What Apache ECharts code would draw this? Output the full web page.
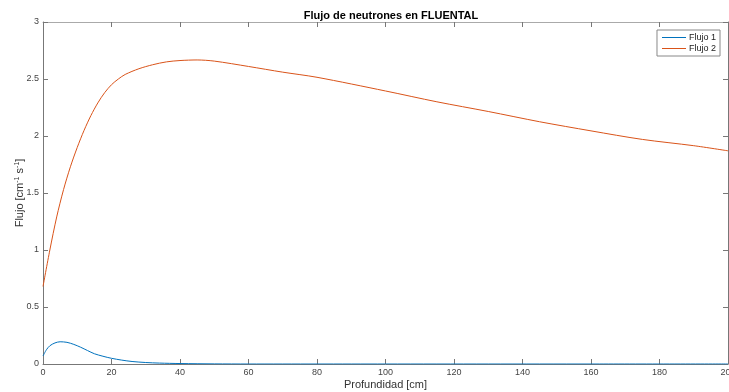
<!DOCTYPE html>
<html>
<head>
<meta charset="utf-8">
<title>Flujo de neutrones en FLUENTAL</title>
<script src="https://cdn.jsdelivr.net/npm/echarts@6/dist/echarts.min.js"></script>
<style>
	html, body { margin: 0; padding: 0; background: #fff; }
	#main { width: 729px; height: 392px; }
</style>
</head>
<body>
<div id="main"></div>
<script>
(function(){
	// profundidad [cm] y flujos
	var depth2 = [0, 2, 4, 6, 8, 10, 12, 14, 16, 18, 20, 22, 24, 28, 32, 36, 40, 45, 50, 60, 70, 80, 100, 115, 130, 145, 160, 175, 190, 200];
	var flux2  = [0.68, 1.0, 1.29, 1.53, 1.73, 1.90, 2.05, 2.18, 2.29, 2.38, 2.45, 2.50, 2.54, 2.59, 2.625, 2.65, 2.662, 2.667, 2.657, 2.61, 2.56, 2.515, 2.395, 2.30, 2.215, 2.125, 2.045, 1.97, 1.915, 1.87];
	var depth1 = [0, 1, 2, 3.5, 5, 7, 9, 11, 13, 15, 17.5, 20, 23, 26, 30, 34, 40, 50, 60, 80, 100, 130, 160, 200];
	var flux1  = [0.07, 0.125, 0.16, 0.185, 0.195, 0.19, 0.172, 0.147, 0.118, 0.09, 0.068, 0.05, 0.034, 0.022, 0.013, 0.008, 0.004, 0.001, 0, 0, 0, 0, 0, 0];
	var seriesNames = ['Flujo 1', 'Flujo 2'];
	var colors = ['#0072BD', '#D95319'];

	function pairs(xs, ys){
		var out = [];
		for (var i = 0; i < xs.length; i++) out.push([xs[i], ys[i]]);
		return out;
	}

	var axisColor = '#777';
	var font = 'Liberation Sans, Arial, sans-serif';
	// ejes tipo MATLAB: caja completa, marcas hacia dentro
	function tick(){
		return { show: true, inside: true, length: 5, lineStyle: { color: axisColor, width: 1 } };
	}

	var chart = echarts.init(document.getElementById('main'), null, { renderer: 'canvas' });
	var option = {
		animation: false,
		color: colors,
		title: {
			text: 'Flujo de neutrones en FLUENTAL',
			left: 386,
			textAlign: 'center',
			top: 5,
			textStyle: { fontSize: 11, fontWeight: 'bold', color: '#000', fontFamily: font }
		},
		legend: {
			data: seriesNames,
			orient: 'vertical',
			right: 9,
			top: 30,
			icon: 'rect',
			itemWidth: 24,
			itemHeight: 1,
			itemGap: 2,
			padding: [3, 4, 3, 5],
			borderColor: '#888',
			borderWidth: 1,
			backgroundColor: '#fff',
			textStyle: { fontSize: 9, color: '#222', fontFamily: font, padding: [0, 0, 0, -2] }
		},
		grid: { left: 43, right: 1, top: 22, bottom: 28, outerBoundsMode: 'none', containLabel: false },
		xAxis: [{
			type: 'value',
			min: 0,
			max: 200,
			interval: 20,
			name: 'Profundidad [cm]',
			nameLocation: 'middle',
			nameGap: 15,
			nameMoveOverlap: false,
			nameTextStyle: { fontSize: 11, color: '#333', fontFamily: font },
			axisLine: { show: true, lineStyle: { color: axisColor, width: 1 } },
			axisTick: tick(),
			axisLabel: { fontSize: 9, color: '#444', margin: 4, fontFamily: font },
			splitLine: { show: false }
		}, {
			type: 'value',
			position: 'top',
			min: 0,
			max: 200,
			interval: 20,
			axisLine: { show: true, onZero: false, lineStyle: { color: '#aaa', width: 1 } },
			axisTick: tick(),
			axisLabel: { show: false },
			splitLine: { show: false }
		}],
		yAxis: [{
			type: 'value',
			min: 0,
			max: 3,
			interval: 0.5,
			name: 'Flujo [cm{sup|-1} s{sup|-1}]',
			nameLocation: 'middle',
			nameGap: 18,
			nameMoveOverlap: false,
			nameTextStyle: {
				fontSize: 11, color: '#333', fontFamily: font,
				rich: { sup: { fontSize: 7, verticalAlign: 'top', color: '#333', fontFamily: font } }
			},
			axisLine: { show: true, lineStyle: { color: axisColor, width: 1 } },
			axisTick: tick(),
			axisLabel: { fontSize: 9, color: '#444', margin: 4, fontFamily: font },
			splitLine: { show: false }
		}, {
			type: 'value',
			position: 'right',
			min: 0,
			max: 3,
			interval: 0.5,
			axisLine: { show: true, onZero: false, lineStyle: { color: axisColor, width: 1 } },
			axisTick: tick(),
			axisLabel: { show: false },
			splitLine: { show: false }
		}],
		series: [{
			name: seriesNames[0],
			type: 'line',
			smooth: 0.3,
			showSymbol: false,
			lineStyle: { width: 1 },
			data: pairs(depth1, flux1)
		}, {
			name: seriesNames[1],
			type: 'line',
			smooth: 0.3,
			showSymbol: false,
			lineStyle: { width: 1 },
			data: pairs(depth2, flux2)
		}]
	};
	chart.setOption(option);
})();
</script>
</body>
</html>
